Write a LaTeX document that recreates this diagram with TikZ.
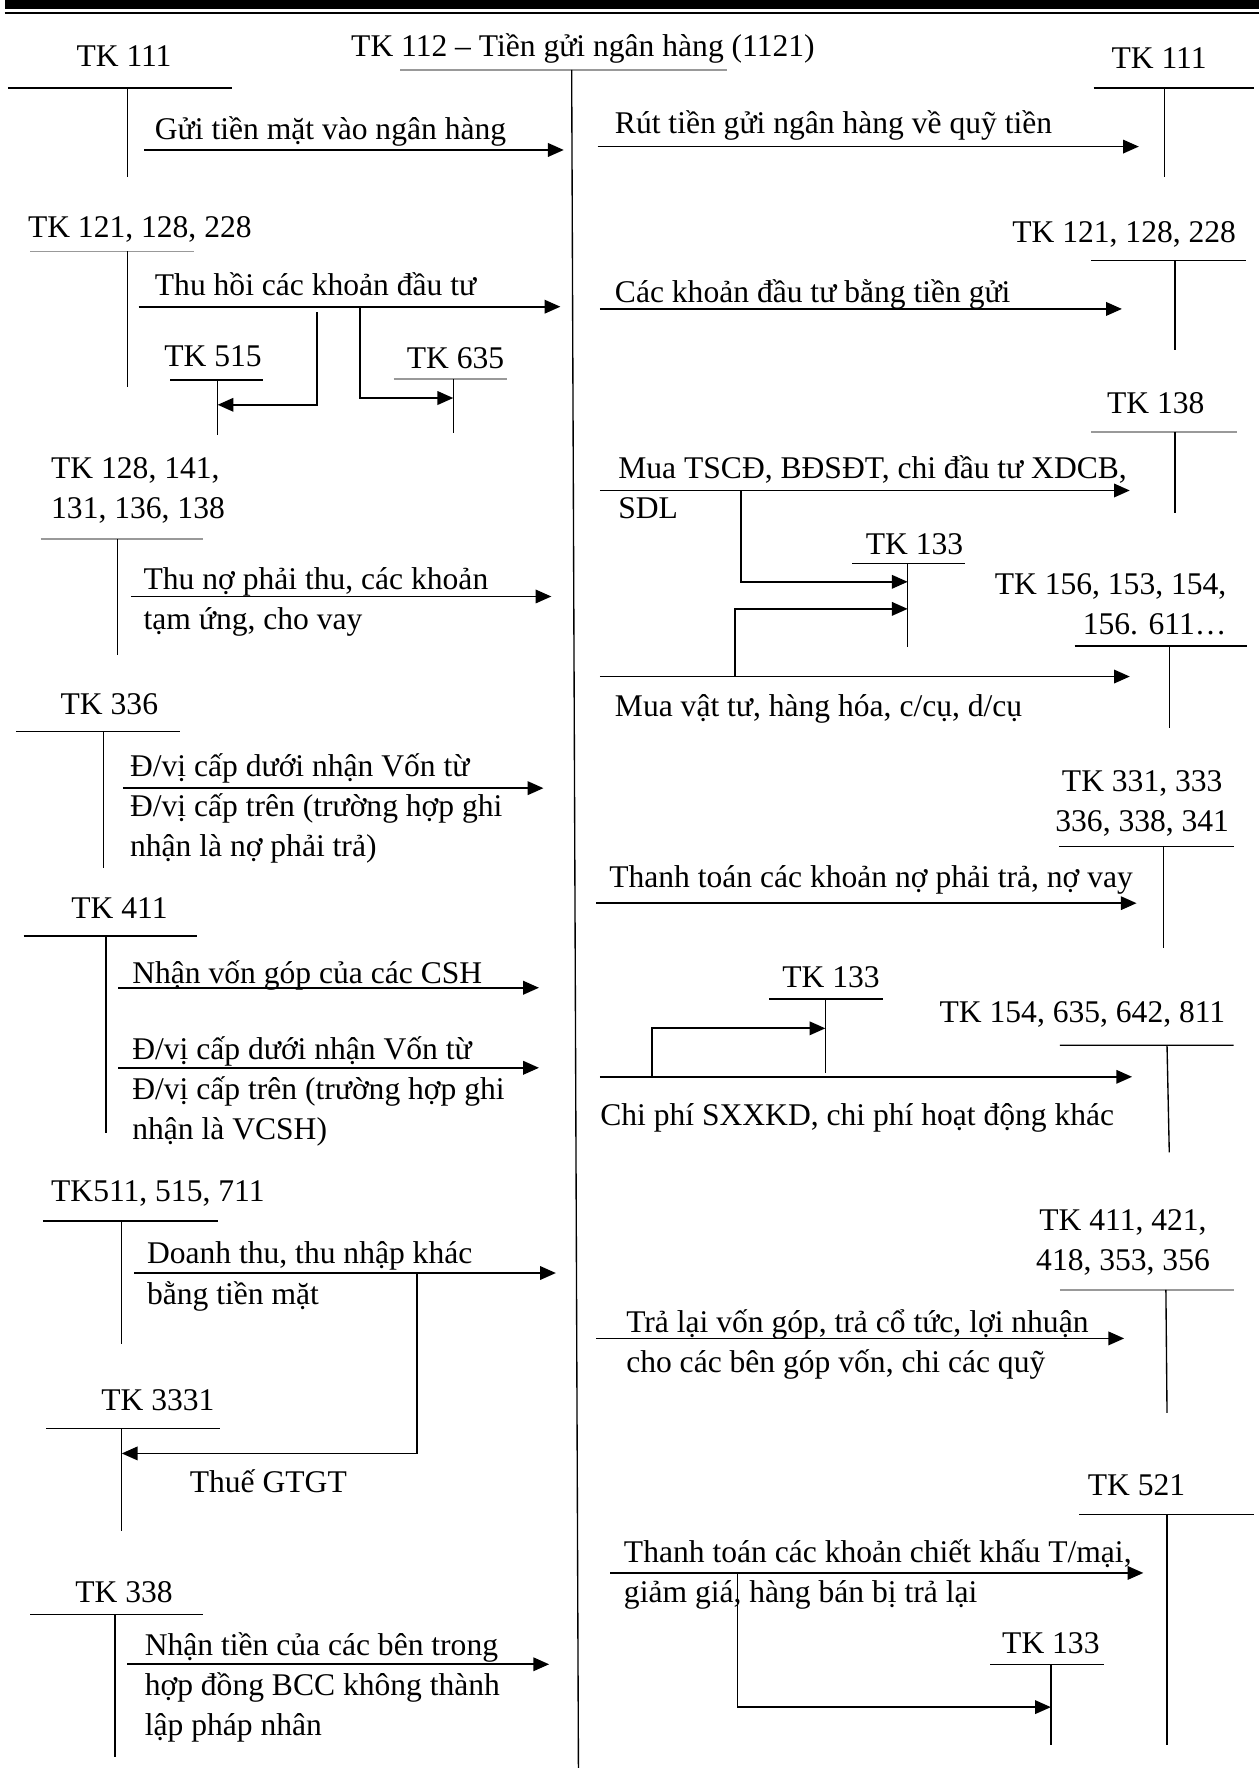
\documentclass[tikz,border=0pt]{standalone}
\usepackage{fontspec}
\setmainfont{Liberation Serif}
\usetikzlibrary{arrows.meta, positioning}

\begin{document}
\begin{tikzpicture}[
    x=0.5pt, y=-0.5pt,
    every node/.style={font=\fontsize{14pt}{17.75pt}\selectfont, inner sep=0pt},
    tk/.style={anchor=base},
    txt/.style={anchor=base west, align=left},
    tline/.style={line width=0.6pt},
    faint/.style={line width=0.6pt, draw=black!40},
    arr/.style={-{Triangle[length=7pt,width=6pt]}, line width=0.8pt}
  ]
  \useasboundingbox (0,0) rectangle (1117,1568);

  \fill (4,0) rectangle (1117,8);
  \draw[line width=1pt] (4,11.5) -- (1117,11.5);

  % TK 112
  \node[tk] (tk112) at (517,50) {TK 112 – Tiền gửi ngân hàng (1121)};
  \coordinate (c112) at (507,62);
  \coordinate (c112b) at (513,1568);
  \draw[faint] (355,62) -- (645,62);
  \draw[tline] (c112) -- (c112b);

  % left: TK 111
  \node[tk] (a111) at (110,59) {TK 111};
  \draw[tline] (7,78) -- (206,78) (113,78) -- (113,157);
  \coordinate (a111o) at (128,133);
  \coordinate (a111i) at (500,133);
  \draw[arr] (a111o) -- (a111i);
  \node[txt] (a111t) at (137,124) {Gửi tiền mặt vào ngân hàng};

  % right: TK 111
  \node[tk] (b111) at (1028,61) {TK 111};
  \draw[tline] (970,78) -- (1112,78) (1033,78) -- (1033,157);
  \coordinate (b111o) at (530,130);
  \coordinate (b111i) at (1010,130);
  \draw[arr] (b111o) -- (b111i);
  \node[txt] (b111t) at (545,118) {Rút tiền gửi ngân hàng về quỹ tiền};

  % left: TK 121, 128, 228
  \node[tk] (a121) at (124,211) {TK 121, 128, 228};
  \draw[faint] (27,223) -- (172,223);
  \draw[tline] (113,223) -- (113,343);
  \coordinate (a121o) at (123,272);
  \coordinate (a121i) at (497,272);
  \draw[arr] (a121o) -- (a121i);
  \node[txt] (a121t) at (137,262) {Thu hồi các khoản đầu tư};
  \node[tk] (a515) at (189,325) {TK 515};
  \draw[tline] (151,337) -- (233,337) (193,337) -- (193,386);
  \coordinate (a515s) at (281,277);
  \coordinate (a515i) at (193,359);
  \draw[arr] (a515s) |- (a515i);
  \node[tk] (a635) at (404,327) {TK 635};
  \draw[faint] (349,336) -- (450,336);
  \draw[tline] (402,336) -- (402,384);
  \coordinate (a635s) at (319,273);
  \coordinate (a635i) at (402,353);
  \draw[arr] (a635s) |- (a635i);

  % right: TK 121, 128, 228
  \node[tk] (b121) at (997,215) {TK 121, 128, 228};
  \draw[tline] (968,231) -- (1105,231) (1042,231) -- (1042,310);
  \coordinate (b121o) at (532,274);
  \coordinate (b121i) at (995,274);
  \draw[arr] (b121o) -- (b121i);
  \node[txt] (b121t) at (545,268) {Các khoản đầu tư bằng tiền gửi};

  % left: TK 128, 141, ...
  \node[txt, font=\fontsize{14pt}{18pt}\selectfont] (a128) at (45,460) {TK 128, 141,\\131, 136, 138};
  \draw[faint] (36,478) -- (180,478);
  \draw[tline] (104,478) -- (104,581);
  \coordinate (a128o) at (116,529);
  \coordinate (a128i) at (489,529);
  \draw[arr] (a128o) -- (a128i);
  \node[txt] (a128t) at (127,558.5) {Thu nợ phải thu, các khoản\\tạm ứng, cho vay};

  % right: TK 138
  \node[tk] (b138) at (1025,367) {TK 138};
  \draw[faint] (968,383) -- (1097,383);
  \draw[tline] (1042,383) -- (1042,455);
  \coordinate (b138o) at (532,435);
  \coordinate (b138i) at (1002,435);
  \draw[arr] (b138o) -- (b138i);
  \node[txt, font=\fontsize{14pt}{18pt}\selectfont] (b138t) at (548,460) {Mua TSCĐ, BĐSĐT, chi đầu tư XDCB,\\SDL};

  % right: TK 133 (1)
  \node[tk] (b133a) at (811,492) {TK 133};
  \draw[tline] (756,500) -- (856,500) (805,500) -- (805,574);
  \coordinate (b133as) at (657,435);
  \coordinate (b133ai) at (805,516);
  \draw[arr] (b133as) |- (b133ai);
  \coordinate (b133bs) at (652,600);
  \coordinate (b133bi) at (805,540);
  \draw[arr] (b133bs) |- (b133bi);

  % right: TK 156, 153, 154, ...
  \node[anchor=base east, align=right, font=\fontsize{14pt}{18pt}\selectfont] (b156) at (1088,563) {TK 156, 153, 154,\\156. 611…};
  \draw[tline] (953,573) -- (1106,573) (1037,573) -- (1037,646);
  \coordinate (b156o) at (532,600);
  \coordinate (b156i) at (1002,600);
  \draw[arr] (b156o) -- (b156i);
  \node[txt] (b156t) at (545,635) {Mua vật tư, hàng hóa, c/cụ, d/cụ};

  % left: TK 336
  \node[tk] (a336) at (97,634) {TK 336};
  \draw[tline] (14,649) -- (160,649) (92,649) -- (92,770);
  \coordinate (a336o) at (109,699);
  \coordinate (a336i) at (482,699);
  \draw[arr] (a336o) -- (a336i);
  \node[txt] (a336t) at (115,760) {Đ/vị cấp dưới nhận Vốn từ\\Đ/vị cấp trên (trường hợp ghi\\nhận là nợ phải trả)};

  % right: TK 331, 333, ...
  \node[tk, align=center] (b331) at (1013,737.5) {TK 331, 333\\336, 338, 341};
  \draw[tline] (939,751) -- (1094,751) (1032,751) -- (1032,841);
  \coordinate (b331o) at (529,801);
  \coordinate (b331i) at (1008,801);
  \draw[arr] (b331o) -- (b331i);
  \node[txt] (b331t) at (540,787) {Thanh toán các khoản nợ phải trả, nợ vay};

  % left: TK 411
  \node[tk] (a411) at (106,815) {TK 411};
  \draw[tline] (21,830) -- (175,830) (94,830) -- (94,1005);
  \coordinate (a411o) at (105,876);
  \coordinate (a411i) at (478,876);
  \draw[arr] (a411o) -- (a411i);
  \node[txt] (a411t) at (117,872) {Nhận vốn góp của các CSH};
  \coordinate (a411p) at (105,947);
  \coordinate (a411q) at (478,947);
  \draw[arr] (a411p) -- (a411q);
  \node[txt] (a411u) at (117,1011) {Đ/vị cấp dưới nhận Vốn từ\\Đ/vị cấp trên (trường hợp ghi\\nhận là VCSH)};

  % right: TK 133 (2), TK 154, 635, 642, 811
  \node[tk] (b133c) at (737,876) {TK 133};
  \draw[tline] (682,886) -- (783,886) (732,886) -- (732,952);
  \node[tk] (b154) at (960,907) {TK 154, 635, 642, 811};
  \draw[tline] (940,927) -- (1094,927) (1035,927) -- (1037,1022);
  \coordinate (b154o) at (532,955);
  \coordinate (b154i) at (1004,955);
  \draw[arr] (b154o) -- (b154i);
  \coordinate (b133cs) at (578,955);
  \coordinate (b133ci) at (732,912);
  \draw[arr] (b133cs) |- (b133ci);
  \node[txt] (b154t) at (532,998) {Chi phí SXXKD, chi phí hoạt động khác};

  % left: TK511, 515, 711 and TK 3331
  \node[tk] (a511) at (140,1066) {TK511, 515, 711};
  \draw[tline] (38,1083) -- (193,1083) (108,1083) -- (108,1192);
  \coordinate (a511o) at (119,1129);
  \coordinate (a511i) at (493,1129);
  \draw[arr] (a511o) -- (a511i);
  \node[txt] (a511t) at (130,1156.5) {Doanh thu, thu nhập khác\\bằng tiền mặt};
  \node[tk] (a3331) at (140,1251) {TK 3331};
  \draw[tline] (41,1267) -- (195,1267) (108,1267) -- (108,1358);
  \coordinate (a3331s) at (370,1129);
  \coordinate (a3331i) at (108,1289);
  \draw[arr] (a3331s) |- (a3331i);
  \node[txt] (a3331t) at (168,1324) {Thuế GTGT};

  % right: TK 411, 421, ...
  \node[tk, align=center, font=\fontsize{14pt}{18pt}\selectfont] (b411) at (996,1127) {TK 411, 421,\\418, 353, 356};
  \draw[faint] (940,1144) -- (1094,1144);
  \draw[tline] (1034,1144) -- (1035,1253);
  \coordinate (b411o) at (529,1187);
  \coordinate (b411i) at (997,1187);
  \draw[arr] (b411o) -- (b411i);
  \node[txt] (b411t) at (555,1217.5) {Trả lại vốn góp, trả cổ tức, lợi nhuận\\cho các bên góp vốn, chi các quỹ};

  % right: TK 521 and TK 133 (3)
  \node[tk] (b521) at (1008,1326) {TK 521};
  \draw[tline] (957,1343) -- (1112,1343) (1035,1343) -- (1035,1548);
  \coordinate (b521o) at (541,1395);
  \coordinate (b521i) at (1014,1395);
  \draw[arr] (b521o) -- (b521i);
  \node[txt] (b521t) at (553,1421.5) {Thanh toán các khoản chiết khấu T/mại,\\giảm giá, hàng bán bị trả lại};
  \node[tk] (b133d) at (932,1466) {TK 133};
  \draw[tline] (878,1476) -- (979,1476) (932,1476) -- (932,1548);
  \coordinate (b133ds) at (654,1395);
  \coordinate (b133di) at (932,1514);
  \draw[arr] (b133ds) |- (b133di);

  % left: TK 338
  \node[tk] (a338) at (110,1421) {TK 338};
  \draw[tline] (27,1432) -- (180,1432) (102,1432) -- (102,1558);
  \coordinate (a338o) at (113,1476);
  \coordinate (a338i) at (487,1476);
  \draw[arr] (a338o) -- (a338i);
  \node[txt] (a338t) at (128,1539) {Nhận tiền của các bên trong\\hợp đồng BCC không thành\\lập pháp nhân};
\end{tikzpicture}
\end{document}
